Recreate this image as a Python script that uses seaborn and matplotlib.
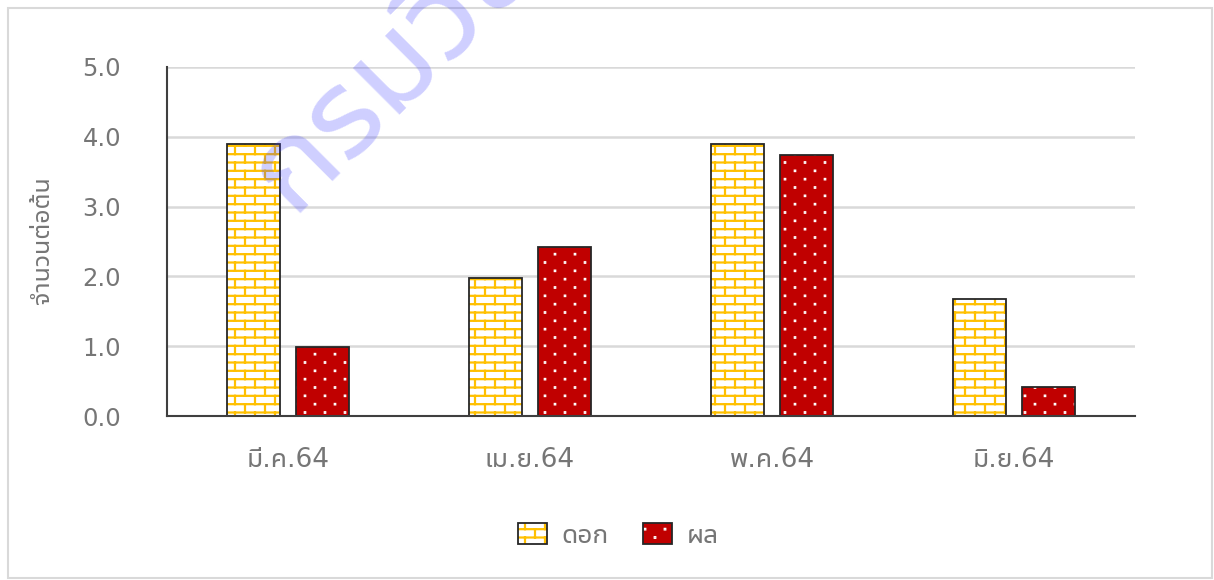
import warnings

import matplotlib
matplotlib.use("Agg")
import matplotlib.pyplot as plt
import matplotlib.hatch as mhatch
import numpy as np
import pandas as pd
import seaborn as sns
from matplotlib import font_manager
from matplotlib.ft2font import FT2Font
from matplotlib.legend_handler import HandlerTuple
from matplotlib.patches import Patch, Rectangle
from matplotlib.path import Path

warnings.filterwarnings("ignore")

# ---------------------------------------------------------------- data
months = ["มี.ค.64", "เม.ย.64", "พ.ค.64", "มิ.ย.64"]
series = ["ดอก", "ผล"]
flowers = [3.9, 1.97, 3.9, 1.67]
fruits = [0.99, 2.42, 3.74, 0.42]
y_ticks = [0.0, 1.0, 2.0, 3.0, 4.0, 5.0]
y_label = "จำนวนต่อต้น"
watermark = "กรมวิชาการเกษตร"


# ---------------------------------------------------------------- fonts
def thai_capable_fonts():
    names = []
    for entry in font_manager.fontManager.ttflist:
        try:
            cmap = FT2Font(entry.fname).get_charmap()
        except Exception:
            continue
        if 0x0E01 in cmap and 0x0E33 in cmap and 0x0E49 in cmap:
            if entry.name not in names:
                names.append(entry.name)
    return names


preferred = ["Leelawadee UI", "Tahoma", "Noto Sans Thai UI", "Noto Sans Thai",
             "Noto Sans Thai Looped", "Loma", "Garuda", "Umpush", "Sarabun",
             "Kinnari", "Norasi", "Waree"]
available = thai_capable_fonts()
thai_font = next((f for f in preferred if f in available),
                 available[0] if available else "DejaVu Sans")


# ---------------------------------------------------------------- hatches
class BrickHatch(mhatch.HatchPatternBase):
    """Staggered brick courses, selected with the 'b' hatch character."""

    def __init__(self, hatch, density):
        self.rows = 12 * hatch.count("b")
        self.cols = 5
        # one course line per row, one joint per brick, plus the joints that
        # wrap from the last row onto the bottom of the tile
        self.num_lines = self.rows * (1 + self.cols) + (self.cols if self.rows else 0)
        self.num_vertices = self.num_lines * 2

    def set_vertices_and_codes(self, vertices, codes):
        h = 1.0 / self.rows
        k = 0
        for i in range(self.rows):
            y0 = (i + 0.5) * h
            vertices[k] = (0.0, y0)
            vertices[k + 1] = (1.0, y0)
            k += 2
            off = 0.5 / self.cols if i % 2 else 0.0
            for j in range(self.cols):
                x = (j + 0.25) / self.cols + off
                vertices[k] = (x, y0)
                vertices[k + 1] = (x, min(y0 + h, 1.0))
                k += 2
        off = 0.5 / self.cols if (self.rows - 1) % 2 else 0.0
        for j in range(self.cols):
            x = (j + 0.25) / self.cols + off
            vertices[k] = (x, 0.0)
            vertices[k + 1] = (x, 0.5 * h)
            k += 2
        codes[0::2] = Path.MOVETO
        codes[1::2] = Path.LINETO


class SparseDotHatch(mhatch.HatchPatternBase):
    """Small staggered square dots, selected with the 'd' hatch character."""

    def __init__(self, hatch, density):
        self.rows = 12 * hatch.count("d")
        self.cols = 5
        self.num_vertices = self.rows * self.cols * 5

    def set_vertices_and_codes(self, vertices, codes):
        s = 0.003
        k = 0
        for i in range(self.rows):
            y = (i + 0.5) / self.rows
            off = 0.5 / self.cols if i % 2 else 0.0
            for j in range(self.cols):
                x = (j + 0.25) / self.cols + off
                vertices[k:k + 5] = [(x - s, y - s), (x + s, y - s),
                                     (x + s, y + s), (x - s, y + s),
                                     (x - s, y - s)]
                codes[k] = Path.MOVETO
                codes[k + 1:k + 4] = Path.LINETO
                codes[k + 4] = Path.CLOSEPOLY
                k += 5


mhatch._hatch_types.extend([BrickHatch, SparseDotHatch])

# ---------------------------------------------------------------- style
sns.set_theme(style="white")
plt.rcParams["font.family"] = [thai_font, "DejaVu Sans"]
plt.rcParams["hatch.linewidth"] = 1.6

text_grey = "#767676"
axis_dark = "#3f3f3f"
series_style = {
    "ดอก": dict(face="white", hatch="b", hatch_color="#FFC000", hatch_lw=1.6),
    "ผล": dict(face="#C00000", hatch="d", hatch_color="white", hatch_lw=1.5),
}

df = pd.DataFrame({
    "month": months * 2,
    "value": flowers + fruits,
    "kind": [series[0]] * len(months) + [series[1]] * len(months),
})

fig = plt.figure(figsize=(12.14, 5.80), dpi=100)
fig.patch.set_facecolor("white")
ax = fig.add_axes([167 / 1214, 1 - 416 / 580, 968 / 1214, 349 / 580])

sns.barplot(data=df, x="month", y="value", hue="kind", order=months,
            hue_order=series, width=0.564, gap=0.22, dodge=True,
            palette=["white", "#C00000"], legend=False, errorbar=None, ax=ax)

legend_handles = []
for container, name in zip(ax.containers, series):
    st = series_style[name]
    for bar in container:
        bar.set_facecolor(st["face"])
        bar.set_edgecolor(st["hatch_color"])
        bar.set_hatch(st["hatch"])
        bar.set_linewidth(0)
        if hasattr(bar, "set_hatch_linewidth"):
            bar.set_hatch_linewidth(st["hatch_lw"])
        ax.add_patch(Rectangle(bar.get_xy(), bar.get_width(), bar.get_height(),
                               fill=False, edgecolor="#262626", linewidth=1.3,
                               zorder=bar.get_zorder() + 0.1))
    swatch = Patch(facecolor=st["face"], edgecolor=st["hatch_color"],
                   hatch=st["hatch"], linewidth=0)
    if hasattr(swatch, "set_hatch_linewidth"):
        swatch.set_hatch_linewidth(st["hatch_lw"])
    frame = Patch(fill=False, edgecolor="#262626", linewidth=1.3)
    legend_handles.append((swatch, frame))

# axes
ax.set_xlim(-0.5, len(months) - 0.5)
ax.set_ylim(y_ticks[0], y_ticks[-1])
ax.set_yticks(y_ticks)
ax.set_yticklabels([f"{v:.1f}" for v in y_ticks])
ax.set_axisbelow(True)
ax.yaxis.grid(True, color="#d9d9d9", linewidth=1.8)
ax.xaxis.grid(False)
for side in ("top", "right"):
    ax.spines[side].set_visible(False)
for side in ("left", "bottom"):
    ax.spines[side].set_color(axis_dark)
    ax.spines[side].set_linewidth(1.5)
ax.tick_params(axis="y", length=0, pad=33, labelsize=17.5, labelcolor=text_grey)
ax.tick_params(axis="x", length=0, pad=22, labelsize=19, labelcolor=text_grey)
ax.set_xlabel("")
ax.set_ylabel(y_label, fontsize=18, color=text_grey)
ax.yaxis.set_label_coords(-0.117, 0.505)

fig.legend(legend_handles, series, handler_map={tuple: HandlerTuple(ndivide=1, pad=0)},
           loc="center", bbox_to_anchor=(618 / 1214, 1 - 536 / 580),
           ncol=2, frameon=False, fontsize=19, labelcolor=text_grey,
           handlelength=1.1, handleheight=0.85, handletextpad=0.55,
           columnspacing=1.3)

# chart area border
fig.add_artist(Rectangle((8 / 1214, 2 / 580), 1204 / 1214, 570 / 580,
                         transform=fig.transFigure, fill=False,
                         edgecolor="#d9d9d9", linewidth=1.5))

# watermark
fig.text(292 / 1214, 1 - 214 / 580, watermark, rotation=45,
         rotation_mode="anchor", ha="left", va="baseline", fontsize=92,
         fontweight="bold", color=(0.25, 0.25, 1.0, 0.25), zorder=10)

fig.savefig("out.png", dpi=100, facecolor="white")
